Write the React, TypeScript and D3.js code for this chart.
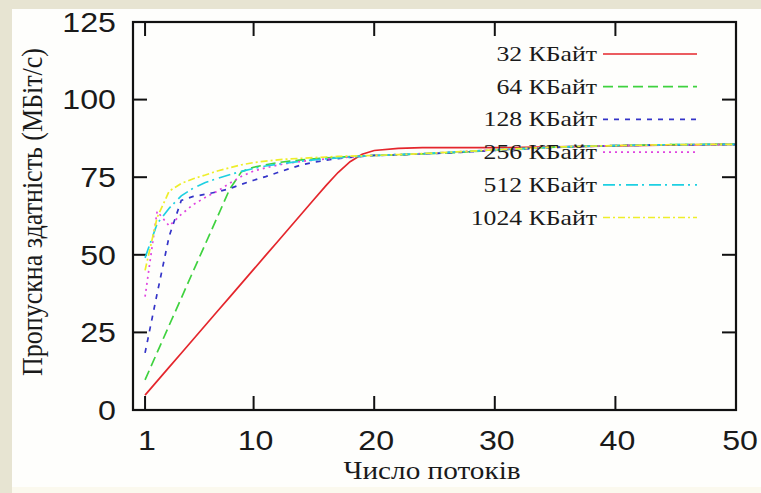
import React from "react";
import * as d3 from "d3";

const threads = [1, 2, 3, 4, 5, 6, 7, 8, 9, 10, 11, 12, 13, 14, 15, 16, 17, 18, 19, 20, 22, 24, 26, 28, 30, 35, 40, 45, 50];
const kb32 = [4.8, 9.3, 13.8, 18.3, 22.8, 27.3, 31.8, 36.3, 40.8, 45.3, 49.8, 54.3, 58.8, 63.3, 67.8, 72.3, 76.5, 80.0, 82.4, 83.6, 84.3, 84.5, 84.5, 84.5, 84.5, 84.8, 85.1, 85.4, 85.6];
const kb64 = [9.7, 18.5, 27.3, 36.0, 44.8, 53.5, 62.2, 71.0, 76.8, 78.2, 79.0, 79.7, 80.2, 80.6, 80.9, 81.2, 81.4, 81.6, 81.8, 82.0, 82.2, 82.5, 82.8, 83.2, 83.7, 84.7, 85.2, 85.5, 85.6];
const kb128 = [18.4, 37.5, 56.0, 67.5, 68.8, 69.5, 70.3, 71.3, 72.7, 74.0, 75.2, 76.5, 77.8, 79.0, 79.8, 80.5, 81.0, 81.4, 81.7, 82.0, 82.2, 82.5, 82.8, 83.2, 83.6, 84.6, 85.2, 85.4, 85.5];
const kb256 = [36.5, 64.0, 59.3, 63.0, 66.2, 68.5, 70.5, 73.0, 75.3, 77.0, 78.0, 78.9, 79.6, 80.1, 80.5, 80.9, 81.2, 81.5, 81.8, 82.0, 82.3, 82.6, 83.0, 83.4, 83.8, 84.7, 85.2, 85.4, 85.5];
const kb512 = [49.0, 60.0, 65.0, 69.0, 71.5, 73.3, 74.6, 75.8, 76.9, 77.8, 78.6, 79.2, 79.7, 80.2, 80.6, 80.9, 81.2, 81.5, 81.8, 82.0, 82.3, 82.6, 83.0, 83.4, 83.8, 84.7, 85.2, 85.5, 85.6];
const kb1024 = [45.0, 62.0, 70.5, 73.0, 74.5, 75.7, 77.0, 78.0, 79.0, 79.7, 80.2, 80.6, 80.9, 81.1, 81.3, 81.5, 81.7, 81.8, 81.9, 82.0, 82.3, 82.6, 83.0, 83.4, 83.8, 84.7, 85.2, 85.5, 85.6];

const seriesNames = ["32 КБайт", "64 КБайт", "128 КБайт", "256 КБайт", "512 КБайт", "1024 КБайт"];
const seriesValues = [kb32, kb64, kb128, kb256, kb512, kb1024];
const seriesColors = ["#e4262c", "#3fd23f", "#3434c8", "#e046e0", "#1ed0e2", "#eeee2a"];
const seriesDashes = ["none", "10,5", "5,6", "2,4", "12,4,2,5", "7,3,2,3"];

const xTicks = [1, 10, 20, 30, 40, 50];
const yTicks = [0, 25, 50, 75, 100, 125];
const xTitle = "Число потоків";
const yTitle = "Пропускна здатність (МБіт/с)";

const W = 761;
const H = 493;
const L = 133, R = 736, T = 22, B = 410;
const SX = 1.17;

const sans = "'Liberation Sans', Arial, sans-serif";
const serif = "'Liberation Serif', 'Times New Roman', serif";

function SText(props: {
  x: number;
  y: number;
  anchor: string;
  size: number;
  family: string;
  rotate?: number;
  children: React.ReactNode;
}) {
  const rot = props.rotate ? ` rotate(${props.rotate})` : "";
  return (
    <text
      transform={`translate(${props.x},${props.y}) scale(${SX},1)${rot}`}
      textAnchor={props.anchor}
      fontFamily={props.family}
      fontSize={props.size}
      fill="#1a1a1a"
    >
      {props.children}
    </text>
  );
}

export default function App() {
  const x = d3.scaleLinear().domain([0, 50]).range([L, R]);
  const y = d3.scaleLinear().domain([0, 125]).range([B, T]);
  const line = d3
    .line<[number, number]>()
    .x((d) => x(d[0]))
    .y((d) => y(d[1]));

  const tickLen = 14;
  const legendRight = 597;
  const legendLine0 = 603;
  const legendLine1 = 697;
  const legendY0 = 54;
  const legendStep = 32.7;

  return (
    <svg
      width={W}
      height={H}
      style={{ position: "fixed", left: 0, top: 0, display: "block" }}
    >
      <rect x={0} y={0} width={W} height={H} fill="#e7e4d2" />
      <rect x={12} y={9} width={W - 12} height={H - 9} fill="#fefefc" />
      <rect x={12} y={487} width={W - 12} height={6} fill="#fbf9ee" />
      <defs>
        <clipPath id="plotclip">
          <rect x={L} y={T} width={R - L} height={B - T} />
        </clipPath>
      </defs>

      {/* ticks */}
      <g stroke="#111" strokeWidth={2}>
        {yTicks.map((t) => (
          <g key={"y" + t}>
            <line x1={L} x2={L + tickLen} y1={y(t)} y2={y(t)} />
            <line x1={R} x2={R - tickLen} y1={y(t)} y2={y(t)} />
          </g>
        ))}
        {xTicks.map((t) => (
          <g key={"x" + t}>
            <line x1={x(t)} x2={x(t)} y1={B} y2={B - tickLen} />
            <line x1={x(t)} x2={x(t)} y1={T} y2={T + tickLen} />
          </g>
        ))}
      </g>

      {/* series */}
      <g clipPath="url(#plotclip)" fill="none">
        {seriesValues.map((vals, i) => (
          <path
            key={seriesNames[i]}
            d={line(threads.map((t, j) => [t, vals[j]] as [number, number])) || ""}
            stroke={seriesColors[i]}
            strokeWidth={1.7}
            strokeDasharray={seriesDashes[i]}
          />
        ))}
      </g>

      {/* frame */}
      <rect x={L} y={T} width={R - L} height={B - T} fill="none" stroke="#111" strokeWidth={2.2} />

      {/* tick labels */}
      {yTicks.map((t) => (
        <SText key={"yl" + t} x={116} y={y(t) + 9.7} anchor="end" size={27.5} family={sans}>
          {t}
        </SText>
      ))}
      {xTicks.map((t) => (
        <SText key={"xl" + t} x={x(t) + (t === 50 ? 4 : 2)} y={450} anchor="middle" size={27.5} family={sans}>
          {t}
        </SText>
      ))}

      {/* axis titles */}
      <SText x={432} y={479} anchor="middle" size={25} family={serif}>
        {xTitle}
      </SText>
      <SText x={42} y={212} anchor="middle" size={26} family={serif} rotate={-90}>
        {yTitle}
      </SText>

      {/* legend */}
      <g>
        {seriesNames.map((name, i) => {
          const ly = legendY0 + i * legendStep;
          return (
            <g key={"lg" + name}>
              <SText x={legendRight} y={ly + 7} anchor="end" size={22} family={serif}>
                {name}
              </SText>
              <line
                x1={legendLine0}
                x2={legendLine1}
                y1={ly}
                y2={ly}
                stroke={seriesColors[i]}
                strokeWidth={1.7}
                strokeDasharray={seriesDashes[i]}
              />
            </g>
          );
        })}
      </g>
    </svg>
  );
}
